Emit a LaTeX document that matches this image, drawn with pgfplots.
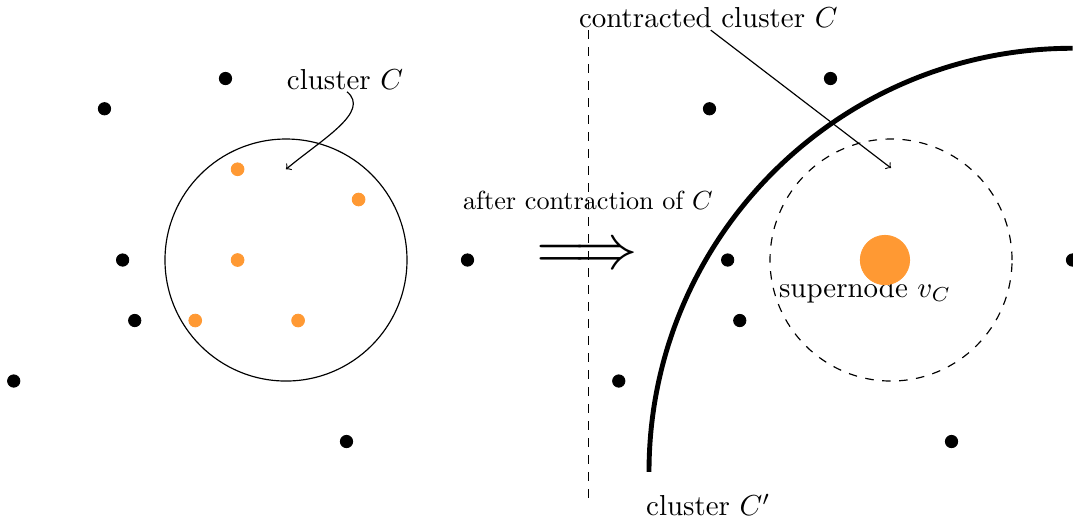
\documentclass[border=0pt]{standalone}
\usepackage{pgfplots}
\pgfplotsset{compat=1.18}
\definecolor{dotorange}{RGB}{255,153,51}
\begin{document}
\begin{tikzpicture}
\begin{axis}[hide axis, x=1cm, y=1cm, xmin=-4.727, xmax=13.008, ymin=-4.264, ymax=4.298, clip=false, scale only axis]
% black nodes
\addplot[only marks, mark=*, mark size=2.9pt, black] coordinates {
(-1,3) (-3,2.5) (-2.7,0) (-2.5,-1) (-4.5,-2) (1,-3) (3,0)
(9,3) (7,2.5) (7.3,0) (7.5,-1) (5.5,-2) (11,-3) (13,0)
};
% orange nodes of cluster C
\addplot[only marks, mark=*, mark size=3pt, color=dotorange, mark options={draw=dotorange, fill=dotorange}] coordinates {
(-0.8,1.5) (1.2,1) (-0.8,0) (-1.5,-1) (0.2,-1)
};
% supernode
\addplot[only marks, mark=*, mark size=11.6pt, color=dotorange, mark options={draw=dotorange, fill=dotorange}] coordinates {(9.9,0)};
\draw[line width=0.55pt] (axis cs:0,0) circle[radius=2];
\draw[line width=0.55pt, dash pattern=on 4pt off 4pt] (axis cs:10,0) circle[radius=2];
\draw[line width=0.55pt, dash pattern=on 4pt off 4pt] (axis cs:5,3.8) -- (axis cs:5,-4);
\draw[line width=2.3pt] (axis cs:6,-3.5) arc[start angle=180, end angle=90, radius=7cm];
\draw[line width=0.55pt, ->] (axis cs:1.01,2.78) .. controls (axis cs:1.4,2.45) and (axis cs:0.6,2.0) .. (axis cs:0,1.5);
\draw[line width=0.55pt, ->] (axis cs:7.02,3.8) -- (axis cs:10,1.52);
\node[scale=1.36] at (axis cs:0.975,2.975) {cluster $C$};
\node[scale=1.23] at (axis cs:4.99,0.99) {after contraction of $C$};
\node[scale=2.98] at (axis cs:4.98,0.06) {$\Longrightarrow$};
\node[scale=1.36] at (axis cs:6.98,4.0) {contracted cluster $C$};
\node[scale=1.36] at (axis cs:9.57,-0.5) {supernode $v_C$};
\node[scale=1.36] at (axis cs:6.98,-4.05) {cluster $C'$};
\end{axis}
\pgfresetboundingbox
\path (current axis.south west) rectangle (current axis.north east);
\end{tikzpicture}
\end{document}
